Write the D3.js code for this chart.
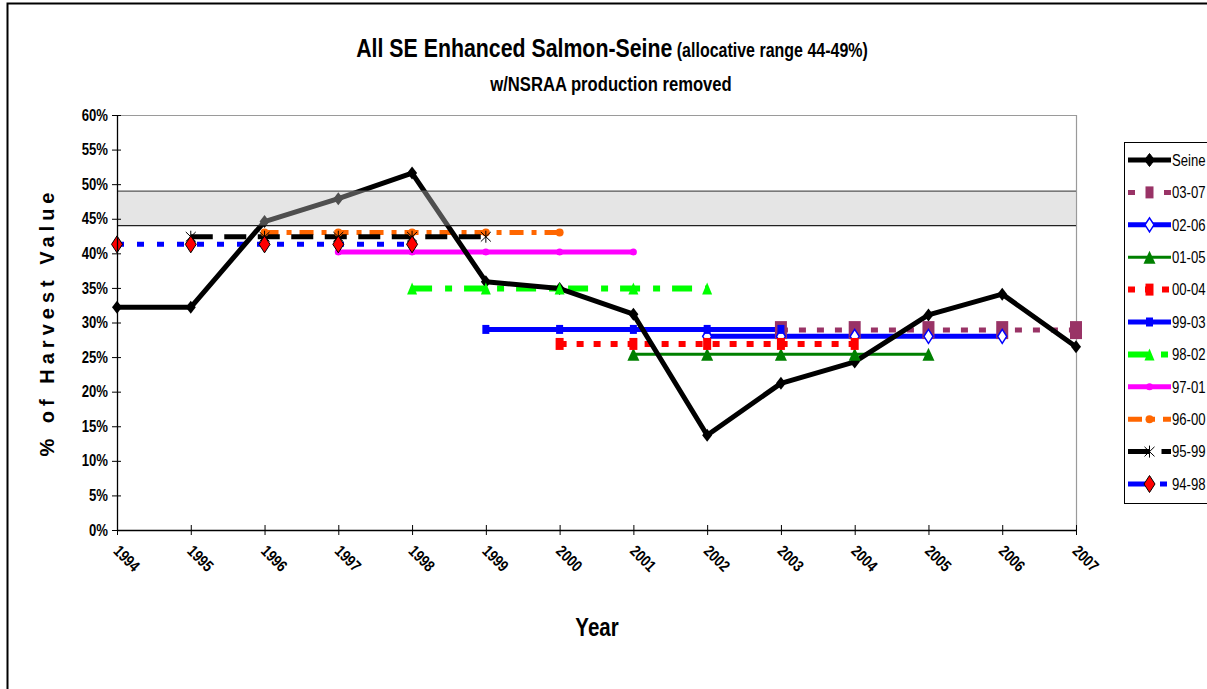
<!DOCTYPE html>
<html>
<head>
<meta charset="utf-8">
<script src="https://cdn.jsdelivr.net/npm/d3@7"></script>
<style>
  html, body { margin: 0; padding: 0; background: #fff; }
  svg { display: block; }
  text { font-family: "Liberation Sans", Arial, sans-serif; }
</style>
</head>
<body>
<svg id="chart" width="1207" height="689"></svg>
<script>
// Seine share of enhanced salmon harvest value, by year (%)
const years = [1994, 1995, 1996, 1997, 1998, 1999, 2000, 2001, 2002, 2003, 2004, 2005, 2006, 2007];
const seine = [32.2, 32.2, 44.6, 47.9, 51.6, 35.9, 34.9, 31.2, 13.7, 21.2, 24.3, 31.1, 34.1, 26.5];

// Five-year averages: label, first year of the window, average value (%)
const avgLabels = ["03-07", "02-06", "01-05", "00-04", "99-03", "98-02", "97-01", "96-00", "95-99", "94-98"];
const avgStart  = [2003, 2002, 2001, 2000, 1999, 1998, 1997, 1996, 1995, 1994];
const avgValues = [28.9, 28.0, 25.4, 26.9, 29.0, 34.9, 40.2, 43.0, 42.4, 41.3];

// Allocative range (%)
const bandRange = [44, 49];

const yTicks = [0, 5, 10, 15, 20, 25, 30, 35, 40, 45, 50, 55, 60];
const xTicks = years;

// Horizontal squeeze that gives a narrow face from Liberation Sans
const NARROW = 0.82;

// Styling of each series
const styles = {
  "Seine": { color: "#000000", width: 5, dash: null, marker: "diamond", fill: "#000", stroke: "#000", mw: 10, mh: 13 },
  "03-07": { color: "#993366", width: 5, dash: "7,11", marker: "rect", fill: "#993366", stroke: "none", mw: 12, mh: 18, lw: 8, lh: 12 },
  "02-06": { color: "#0000ff", width: 5, dash: null, marker: "diamond", fill: "#ffffff", stroke: "#0000ff", mw: 9, mh: 14 },
  "01-05": { color: "#008000", width: 3, dash: null, marker: "triangle", fill: "#008000", stroke: "none", mw: 12, mh: 13 },
  "00-04": { color: "#ff0000", width: 6, dash: "7,10", marker: "rect", fill: "#ff0000", stroke: "none", mw: 8, mh: 12 },
  "99-03": { color: "#0000ff", width: 5, dash: null, marker: "rect", fill: "#0000ff", stroke: "none", mw: 7, mh: 9 },
  "98-02": { color: "#00ff00", width: 6, dash: "20,13,7,12", marker: "triangle", fill: "#00ff00", stroke: "none", mw: 10, mh: 12 },
  "97-01": { color: "#ff00ff", width: 5, dash: null, marker: "circle", fill: "#ff00ff", stroke: "none", mw: 7, mh: 7 },
  "96-00": { color: "#ff6600", width: 5, dash: "14,8,5,8", marker: "circle", fill: "#ff6600", stroke: "none", mw: 8, mh: 8 },
  "95-99": { color: "#000000", width: 5, dash: "22,11.5", marker: "star", fill: "none", stroke: "#000", mw: 10, mh: 12 },
  "94-98": { color: "#0000ff", width: 5, dash: "7,13", marker: "diamond", fill: "#ff0000", stroke: "#000", mw: 11, mh: 17, legendDash: "17,15,7,13" }
};

function markerPath(kind, w, h) {
  const a = w / 2, b = h / 2;
  switch (kind) {
    case "diamond": return `M0,${-b}L${a},0L0,${b}L${-a},0Z`;
    case "rect": return `M${-a},${-b}H${a}V${b}H${-a}Z`;
    case "triangle": return `M0,${-b}L${a},${b}L${-a},${b}Z`;
    case "circle": return `M${-a},0A${a},${a} 0 1,0 ${a},0A${a},${a} 0 1,0 ${-a},0Z`;
    case "star": return `M${-a},${-b * 0.8}L${a},${b * 0.8}M${a},${-b * 0.8}L${-a},${b * 0.8}M0,${-b}V${b}`;
  }
}

// Narrow text placed at (x, y)
function narrowText(parent, x, y, size, anchor, weight) {
  return parent.append("g")
    .attr("transform", `translate(${x},${y}) scale(${NARROW},1)`)
    .append("text")
    .attr("text-anchor", anchor)
    .attr("font-size", size)
    .attr("font-weight", weight)
    .attr("fill", "#000");
}

const svg = d3.select("#chart");
const margin = { left: 117, right: 1076, top: 115, bottom: 530 };

const x = d3.scaleLinear().domain([1994, 2007]).range([margin.left, margin.right]);
const y = d3.scaleLinear().domain([0, 60]).range([margin.bottom, margin.top]);

// Outer chart frame
svg.append("rect")
  .attr("x", 7.5).attr("y", 3.5).attr("width", 1400).attr("height", 900)
  .attr("fill", "none").attr("stroke", "#000").attr("stroke-width", 2);

// Plot area border (top and right)
svg.append("path")
  .attr("d", `M${margin.left},${margin.top + 0.5}H${margin.right + 0.5}V${margin.bottom}`)
  .attr("fill", "none").attr("stroke", "#9a9a9a").attr("stroke-width", 1.2);

const plot = svg.append("g");

// Average lines
const avgSeries = avgLabels.map((lab, i) => ({
  label: lab,
  points: d3.range(5).map(k => ({ year: avgStart[i] + k, value: avgValues[i] }))
}));

const line = d3.line().x(d => x(d.year)).y(d => y(d.value));

avgSeries.forEach(s => {
  const st = styles[s.label];
  plot.append("path")
    .attr("d", line(s.points))
    .attr("fill", "none")
    .attr("stroke", st.color)
    .attr("stroke-width", st.width)
    .attr("stroke-dasharray", st.dash);
});

// Seine series
const seineData = years.map((yr, i) => ({ year: yr, value: seine[i] }));
plot.append("path")
  .attr("d", line(seineData))
  .attr("fill", "none")
  .attr("stroke", "#000")
  .attr("stroke-width", styles["Seine"].width)
  .attr("stroke-linejoin", "round");

plot.append("g").selectAll("path")
  .data(seineData)
  .join("path")
  .attr("transform", d => `translate(${x(d.year)},${y(d.value)})`)
  .attr("d", markerPath("diamond", styles["Seine"].mw, styles["Seine"].mh))
  .attr("fill", "#000");

// Average markers
avgSeries.forEach(s => {
  const st = styles[s.label];
  plot.append("g").selectAll("path")
    .data(s.points)
    .join("path")
    .attr("transform", d => `translate(${x(d.year)},${y(d.value)})`)
    .attr("d", markerPath(st.marker, st.mw, st.mh))
    .attr("fill", st.fill)
    .attr("stroke", st.stroke)
    .attr("stroke-width", st.marker === "diamond" && st.fill === "#ffffff" ? 1.5 : 1);
});

// Allocative range band (translucent, so the Seine line shows through greyed)
svg.append("rect")
  .attr("x", margin.left).attr("width", margin.right - margin.left)
  .attr("y", y(bandRange[1])).attr("height", y(bandRange[0]) - y(bandRange[1]))
  .attr("fill", "rgb(193,193,193)").attr("fill-opacity", 0.41);
svg.append("g").selectAll("line")
  .data(bandRange)
  .join("line")
  .attr("x1", margin.left).attr("x2", margin.right)
  .attr("y1", d => y(d)).attr("y2", d => y(d))
  .attr("stroke", (d, i) => i === 0 ? "#222" : "#555").attr("stroke-width", 1.4);

// Axes
const yAxis = d3.axisLeft(y).tickValues(yTicks).tickFormat(d => d + "%")
  .tickSizeOuter(0).tickSizeInner(5).tickPadding(4);
const gy = svg.append("g").attr("transform", `translate(${margin.left},0)`).call(yAxis);
gy.select(".domain").attr("stroke", "#000").attr("stroke-width", 1.3);
gy.selectAll(".tick line").attr("x1", 4).attr("x2", -5).attr("stroke", "#000");
gy.selectAll(".tick text")
  .attr("font-size", 16).attr("font-weight", "bold").attr("fill", "#000")
  .attr("x", -9 / NARROW)
  .attr("transform", `scale(${NARROW},1)`);

const xAxis = d3.axisBottom(x).tickValues(xTicks).tickFormat(d3.format("d"))
  .tickSizeOuter(0).tickSizeInner(5);
const gx = svg.append("g").attr("transform", `translate(0,${margin.bottom})`).call(xAxis);
gx.select(".domain").attr("stroke", "#000").attr("stroke-width", 1.3);
gx.selectAll(".tick line").attr("y1", -5).attr("y2", 5).attr("stroke", "#000");
gx.selectAll(".tick text")
  .attr("font-size", 16).attr("font-weight", "bold").attr("fill", "#000")
  .attr("text-anchor", "start").attr("dy", null).attr("y", null)
  .attr("transform", `translate(-5,22) rotate(45) scale(${NARROW},1)`);

// Titles
const title = narrowText(svg, 612, 57, 26, "middle", "bold");
title.append("tspan").text("All SE Enhanced Salmon-Seine");
title.append("tspan").attr("font-size", 19.5).text(" (allocative range 44-49%)");

narrowText(svg, 611, 91, 20.3, "middle", "bold").text("w/NSRAA production removed");
narrowText(svg, 597, 636, 25, "middle", "bold").text("Year");

svg.append("text")
  .attr("transform", "translate(54,322) rotate(-90)")
  .attr("text-anchor", "middle")
  .attr("font-weight", "bold").attr("font-size", 20)
  .attr("letter-spacing", 5)
  .attr("fill", "#000")
  .text("% of Harvest Value");

// Legend
const legendItems = ["Seine"].concat(avgLabels);
const lg = svg.append("g");
lg.append("rect")
  .attr("x", 1124.5).attr("y", 142.5).attr("width", 120).attr("height", 361)
  .attr("fill", "#fff").attr("stroke", "#000").attr("stroke-width", 1);

const ly = d3.scalePoint().domain(legendItems).range([160, 484]);
legendItems.forEach(lab => {
  const st = styles[lab];
  const cy = ly(lab);
  const g = lg.append("g");
  g.append("line")
    .attr("x1", 1128).attr("x2", 1171).attr("y1", cy).attr("y2", cy)
    .attr("stroke", st.color).attr("stroke-width", st.width)
    .attr("stroke-dasharray", st.legendDash || st.dash);
  g.append("path")
    .attr("transform", `translate(1149.5,${cy})`)
    .attr("d", markerPath(st.marker, st.lw || st.mw, st.lh || st.mh))
    .attr("fill", st.fill).attr("stroke", st.stroke)
    .attr("stroke-width", st.marker === "diamond" && st.fill === "#ffffff" ? 1.5 : 1);
  narrowText(g, 1172, cy, 16, "start", "normal")
    .attr("dy", "0.36em")
    .text(lab);
});
</script>
</body>
</html>
